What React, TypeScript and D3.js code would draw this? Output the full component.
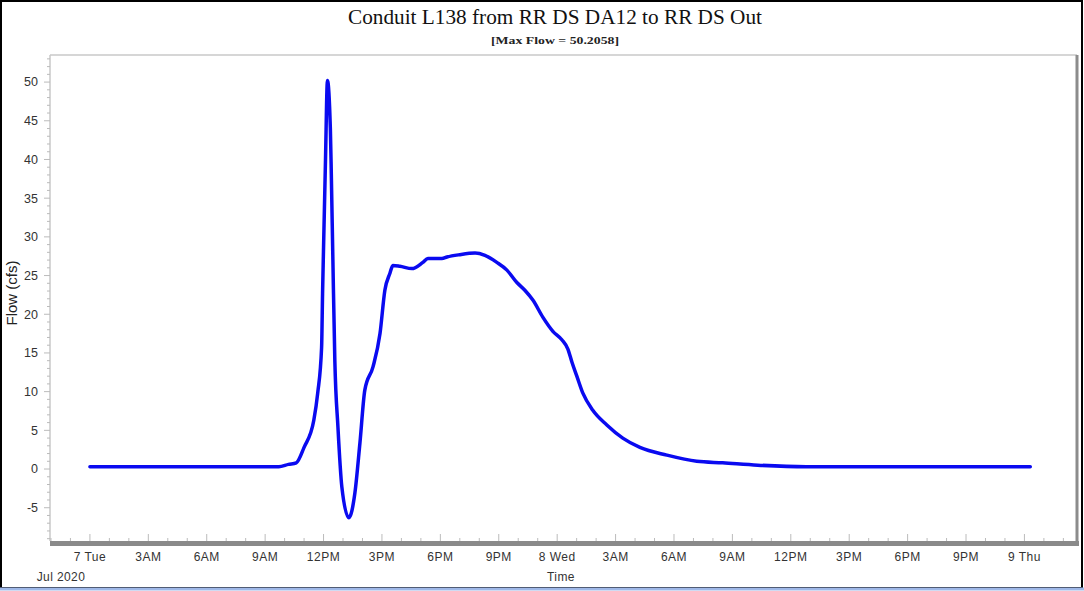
import { useRef, useEffect } from 'react';
import * as d3 from 'd3';

const W = 1084;
const H = 591;

const TITLE = 'Conduit L138 from RR DS DA12 to RR DS Out';
const SUBTITLE = '[Max Flow = 50.2058]';

// hours after Jul 7 2020 00:00
const HOURS = [
  0, 9.7, 10.2, 10.6, 11.0, 11.5, 11.7, 11.9, 11.95, 12.0, 12.1, 12.2, 12.35, 12.4,
  12.48, 12.58, 12.74, 12.94, 13.3, 13.61, 13.87, 14.12, 14.54, 14.9, 15.15, 15.41,
  15.56, 15.92, 16.54, 17.1, 17.36, 18.08, 18.34, 19.0, 19.78, 20.29, 20.9, 21.42,
  21.93, 22.34, 22.76, 23.27, 23.78, 24.24, 24.55, 24.76, 25.01, 25.32, 25.83, 26.55,
  27.37, 28.25, 29.63, 31.17, 32.5, 34.3, 36.8, 48.3,
];
const FLOW = [
  0.3, 0.3, 0.6, 0.8, 2.8, 6.3, 9.8, 15.7, 22.7, 28.6, 39.9, 50.2, 44, 38,
  27, 14, 5.4, -2.3, -6.3, -3.1, 3.4, 10.2, 13.2, 17.5, 23.1, 25.3,
  26.3, 26.2, 25.9, 26.7, 27.2, 27.2, 27.4, 27.7, 27.9, 27.6, 26.7, 25.7,
  24.1, 23.1, 21.8, 19.6, 17.8, 16.7, 15.5, 13.8, 12.0, 9.8, 7.6, 5.7,
  4.0, 2.8, 1.8, 1.0, 0.8, 0.5, 0.3, 0.3,
];
const Y_TICKS = [-5, 0, 5, 10, 15, 20, 25, 30, 35, 40, 45, 50];

const START = new Date(2020, 6, 7, 0, 0, 0);
const atHour = (h: number) => new Date(START.getTime() + h * 3600 * 1000);

export default function App() {
  const svgRef = useRef<SVGSVGElement>(null);

  useEffect(() => {
    document.body.style.margin = '0';
    const svg = d3.select(svgRef.current);
    svg.selectAll('*').remove();

    const left = 50, right = 1077, top = 55, bottom = 541;

    const x = d3.scaleTime()
      .domain([atHour(-2.05), atHour(50.7)])
      .range([left, right]);
    const y = d3.scaleLinear().domain([-9.3, 53.5]).range([bottom, top]);

    svg.append('rect').attr('width', W).attr('height', H).attr('fill', '#fff');

    // outer frame
    svg.append('rect').attr('x', 1).attr('y', 1).attr('width', W - 3).attr('height', H - 4)
      .attr('fill', 'none').attr('stroke', '#000').attr('stroke-width', 2);
    svg.append('line').attr('x1', 0).attr('x2', W).attr('y1', 589).attr('y2', 589)
      .attr('stroke', '#9fb8e8').attr('stroke-width', 3);

    // titles
    const serif = '"Liberation Serif", "Times New Roman", serif';
    svg.append('text').attr('x', 555).attr('y', 24).attr('text-anchor', 'middle')
      .attr('font-family', serif).attr('font-size', 20).attr('fill', '#111')
      .attr('textLength', 414).attr('lengthAdjust', 'spacingAndGlyphs').text(TITLE);
    svg.append('text').attr('x', 555).attr('y', 44).attr('text-anchor', 'middle')
      .attr('font-family', serif).attr('font-weight', 'bold').attr('font-size', 11)
      .attr('fill', '#222').attr('textLength', 128).attr('lengthAdjust', 'spacingAndGlyphs')
      .text(SUBTITLE);

    // plot frame
    svg.append('line').attr('x1', left).attr('x2', right).attr('y1', top).attr('y2', top)
      .attr('stroke', '#c8c8c8').attr('stroke-width', 1.5);
    svg.append('line').attr('x1', left).attr('x2', left).attr('y1', top).attr('y2', bottom)
      .attr('stroke', '#c8c8c8').attr('stroke-width', 1.5);
    svg.append('line').attr('x1', right).attr('x2', right).attr('y1', top).attr('y2', bottom + 4)
      .attr('stroke', '#8c8c8c').attr('stroke-width', 3);

    const sans = '"Liberation Sans", Arial, sans-serif';

    // y ticks
    const yAxis = svg.append('g');
    d3.range(-9, 54).forEach((v) => {
      const major = v % 5 === 0;
      yAxis.append('line').attr('x1', left - (major ? 6 : 3)).attr('x2', left)
        .attr('y1', y(v)).attr('y2', y(v)).attr('stroke', '#bbb').attr('stroke-width', 1);
    });
    yAxis.selectAll('text').data(Y_TICKS).join('text')
      .attr('x', 38).attr('y', (d) => y(d)).attr('dy', '0.35em').attr('text-anchor', 'end')
      .attr('font-family', sans).attr('font-size', 12.5).attr('fill', '#333')
      .text((d) => String(d));

    svg.append('text')
      .attr('transform', `translate(17,293) rotate(-90)`)
      .attr('text-anchor', 'middle').attr('font-family', sans).attr('font-size', 15)
      .attr('fill', '#222').text('Flow (cfs)');

    // x axis bar + ticks
    svg.append('rect').attr('x', left).attr('y', bottom).attr('width', right - left + 2)
      .attr('height', 5).attr('fill', '#8a8a8a');
    const hourTicks = d3.timeHour.every(1)!.range(x.domain()[0], x.domain()[1]);
    hourTicks.forEach((d) => {
      const major = d.getHours() % 3 === 0;
      svg.append('line').attr('x1', x(d)).attr('x2', x(d))
        .attr('y1', bottom).attr('y2', bottom - (major ? 7 : 3))
        .attr('stroke', '#bbb').attr('stroke-width', 1);
    });
    const majors = d3.timeHour.every(3)!.range(atHour(0), atHour(48.1));
    const fmt = (d: Date) =>
      d.getHours() === 0 ? d3.timeFormat('%-d %a')(d) : d3.timeFormat('%-I%p')(d);
    svg.append('g').selectAll('text').data(majors).join('text')
      .attr('x', (d) => x(d)).attr('y', 561).attr('text-anchor', 'middle')
      .attr('font-family', sans).attr('font-size', 12).attr('fill', '#333')
      .attr('letter-spacing', 0.5)
      .text(fmt);
    svg.append('text').attr('x', 61).attr('y', 581).attr('text-anchor', 'middle')
      .attr('font-family', sans).attr('font-size', 12).attr('letter-spacing', 0.4)
      .attr('fill', '#333').text('Jul 2020');
    svg.append('text').attr('x', 561).attr('y', 581).attr('text-anchor', 'middle')
      .attr('font-family', sans).attr('font-size', 12).attr('letter-spacing', 0.4)
      .attr('fill', '#333').text('Time');

    // flow line
    const line = d3.line<number>()
      .x((_, i) => x(atHour(HOURS[i])))
      .y((d) => y(d))
      .curve(d3.curveMonotoneX);
    svg.append('path').datum(FLOW).attr('d', line).attr('fill', 'none')
      .attr('stroke', '#0a0af0').attr('stroke-width', 3.5)
      .attr('stroke-linejoin', 'round').attr('stroke-linecap', 'round');
  }, []);

  return (
    <svg ref={svgRef} width={W} height={H}
      style={{ display: 'block', position: 'absolute', left: 0, top: 0 }} />
  );
}
